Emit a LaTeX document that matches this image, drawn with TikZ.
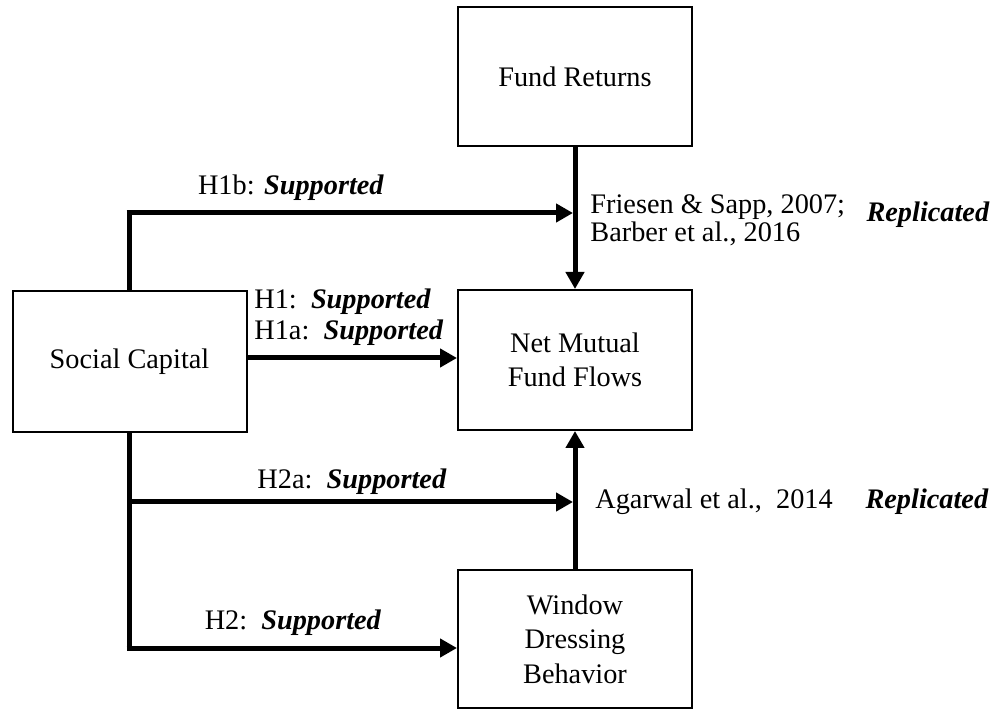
\documentclass[tikz,border=0pt]{standalone}
\usepackage{fontspec}
\setmainfont{Liberation Serif}
\usetikzlibrary{arrows.meta}
\begin{document}
\begin{tikzpicture}[x=0.5pt,y=-0.5pt,
  box/.style={draw=black,line width=1pt,minimum width=117pt,inner sep=0pt,align=center,
    font=\fontsize{14.15}{17.25}\selectfont},
  lbl/.style={inner sep=0pt,font=\fontsize{14.15}{15}\selectfont},
  conn/.style={line width=2.5pt,-{Triangle[length=8.5pt,width=9pt]}},
  seg/.style={line width=2.5pt}]
\useasboundingbox (0,0) rectangle (995,710);
\node[box,minimum height=69.5pt] (fr) at (575,76.5) {Fund Returns};
\node[box,minimum height=70.5pt] (sc) at (129.5,362) {Social Capital};
\node[box,minimum height=70pt] (nmf) at (575,360) {Net Mutual\\Fund Flows};
\node[box,minimum height=69pt] (wdb) at (575,639) {Window\\Dressing\\Behavior};
% connectors
\coordinate (top) at (129,213);
\coordinate (topend) at (573,213);
\coordinate (mid) at (129,502);
\coordinate (midend) at (573,502);
\coordinate (bot) at (129,648);
\draw[seg] (sc.north -| top) -- (top) -- ([xshift=1.25pt]top);
\draw[conn] ([xshift=-1.2pt]top) -- (topend);
\draw[conn] (fr.south) -- (nmf.north);
\draw[conn] (sc.east |- 0,358) -- (nmf.west |- 0,358);
\draw[seg,line join=miter] (sc.south -| bot) -- (bot) -- ([xshift=1.25pt]bot);
\draw[conn] ([xshift=-1.2pt]bot) -- (wdb.west |- bot);
\draw[conn] (mid) -- (midend);
\draw[conn] (wdb.north) -- (nmf.south);
% labels
\node[lbl] (l1b) at (291,188) {H1b: \textbf{\textit{Supported}}};
\node[lbl,anchor=west] (l1) at (254,302) {H1:\enspace\textbf{\textit{Supported}}};
\node[lbl,anchor=west] (l1a) at (254,333) {H1a:\enspace\textbf{\textit{Supported}}};
\node[lbl] (l2a) at (352,482) {H2a:\enspace\textbf{\textit{Supported}}};
\node[lbl] (l2) at (293,623) {H2:\enspace\textbf{\textit{Supported}}};
\node[lbl,anchor=west,align=left] (fs) at (590,220) {Friesen \& Sapp, 2007;\\[-1pt]Barber et al., 2016};
\node[lbl] (r1) at (928,215) {\textbf{\textit{Replicated}}};
\node[lbl,anchor=west] (ag) at (595,502) {Agarwal et al.,\enspace 2014};
\node[lbl] (r2) at (927,502) {\textbf{\textit{Replicated}}};
\end{tikzpicture}
\end{document}
